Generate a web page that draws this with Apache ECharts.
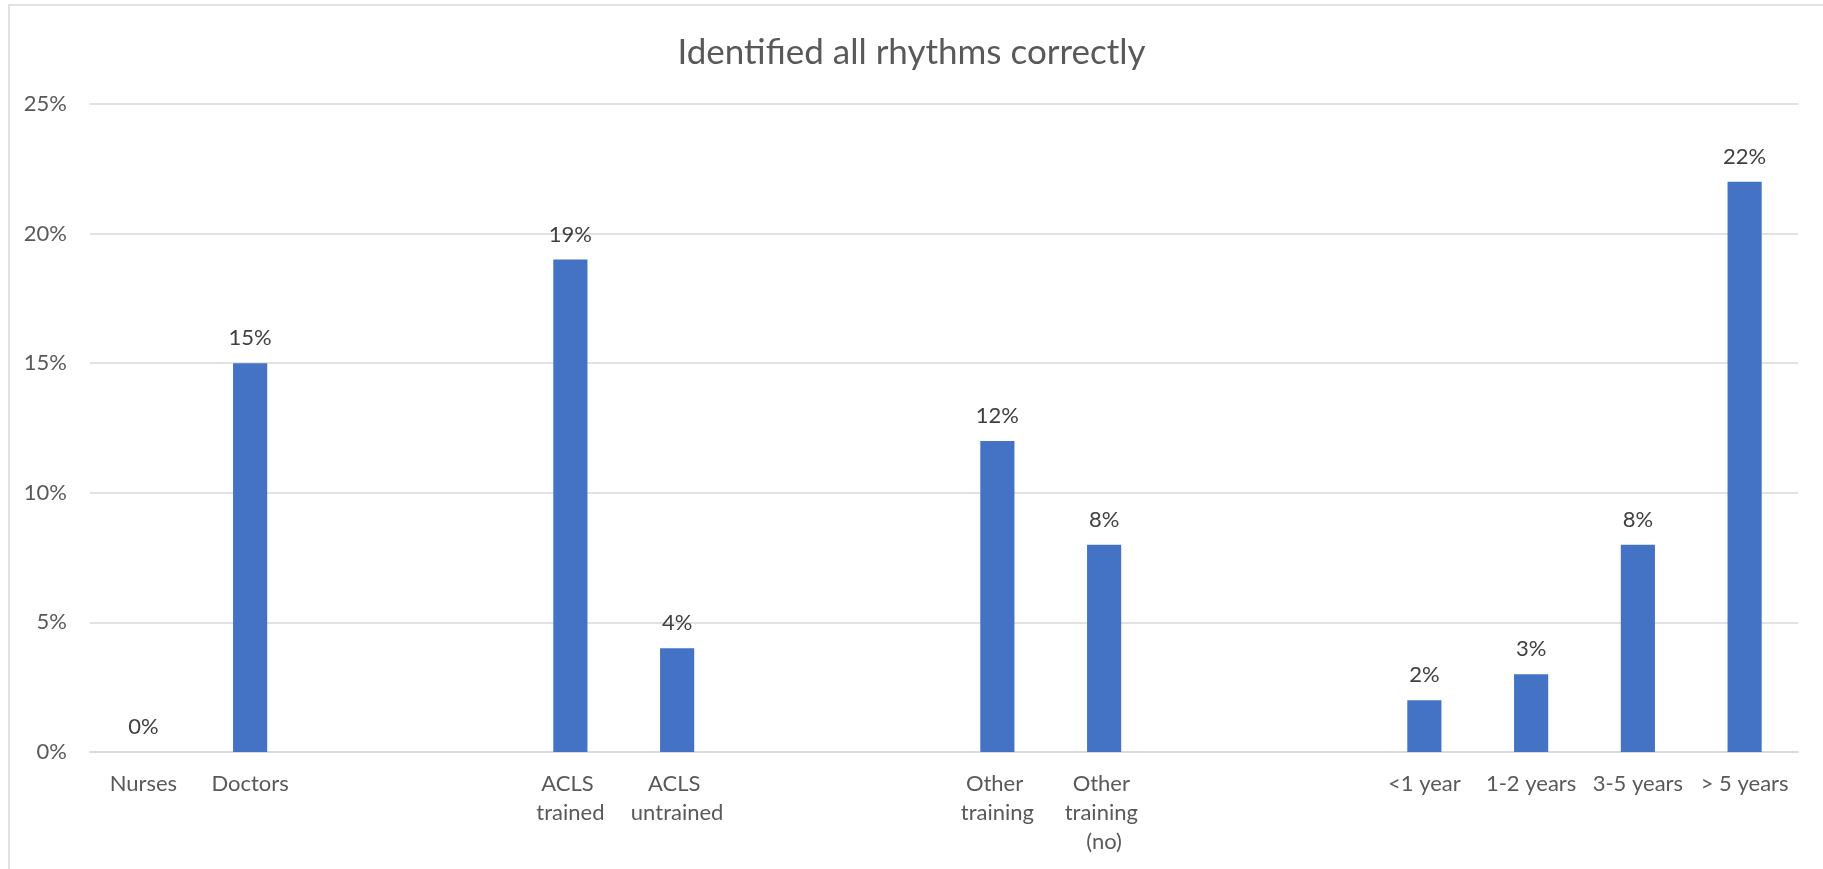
<!DOCTYPE html>
<html>
<head>
<meta charset="utf-8">
<style>
  html, body { margin: 0; padding: 0; background: #ffffff; }
  #chart { width: 1823px; height: 869px; }
</style>
<script src="https://cdn.jsdelivr.net/npm/echarts@6/dist/echarts.min.js"></script>
</head>
<body>
<div id="chart"></div>
<script>
// Groups are separated by two empty category slots
const categories = [
  'Nurses', 'Doctors', '', '',
  'ACLS trained', 'ACLS untrained', '', '',
  'Other training', 'Other training (no)', '', '',
  '<1 year', '1-2 years', '3-5 years', '> 5 years'
];
// Share who identified all rhythms correctly, in percent
const values = [
  0, 15, null, null,
  19, 4, null, null,
  12, 8, null, null,
  2, 3, 8, 22
];
const yTicks = { min: 0, max: 25, step: 5 };

const chart = echarts.init(document.getElementById('chart'));
const font = 'Lato, "Open Sans", sans-serif';

chart.setOption({
  backgroundColor: '#ffffff',
  animation: false,
  title: {
    text: 'Identified all rhythms correctly',
    left: 'center',
    top: 30,
    textStyle: { fontFamily: font, fontSize: 35, fontWeight: 'normal', color: '#595959' }
  },
  graphic: [{
    type: 'rect',
    shape: { x: 9, y: 5, width: 1900, height: 1000 },
    style: { fill: 'none', stroke: '#d9d9d9', lineWidth: 1.5 },
    silent: true
  }],
  grid: { left: 90, right: 25, top: 104, bottom: 117, containLabel: false },
  xAxis: {
    type: 'category',
    data: categories,
    axisLine: { show: true, lineStyle: { color: '#d9d9d9', width: 1.5 } },
    axisTick: { show: false },
    axisLabel: {
      interval: 0,
      margin: 17,
      color: '#595959',
      fontFamily: font,
      fontSize: 22,
      lineHeight: 29,
      width: 100,
      overflow: 'break',
      align: 'center'
    }
  },
  yAxis: {
    type: 'value',
    min: yTicks.min,
    max: yTicks.max,
    interval: yTicks.step,
    axisLine: { show: false },
    axisTick: { show: false },
    splitLine: { lineStyle: { color: '#d9d9d9', width: 1.5 } },
    axisLabel: {
      margin: 23,
      color: '#595959',
      fontFamily: font,
      fontSize: 22,
      formatter: '{value}%'
    }
  },
  series: [{
    type: 'bar',
    data: values,
    barWidth: '32%',
    itemStyle: { color: '#4472c4' },
    label: {
      show: true,
      position: 'top',
      distance: 14,
      color: '#404040',
      fontFamily: font,
      fontSize: 22,
      formatter: p => p.value + '%'
    }
  }]
});
</script>
</body>
</html>
